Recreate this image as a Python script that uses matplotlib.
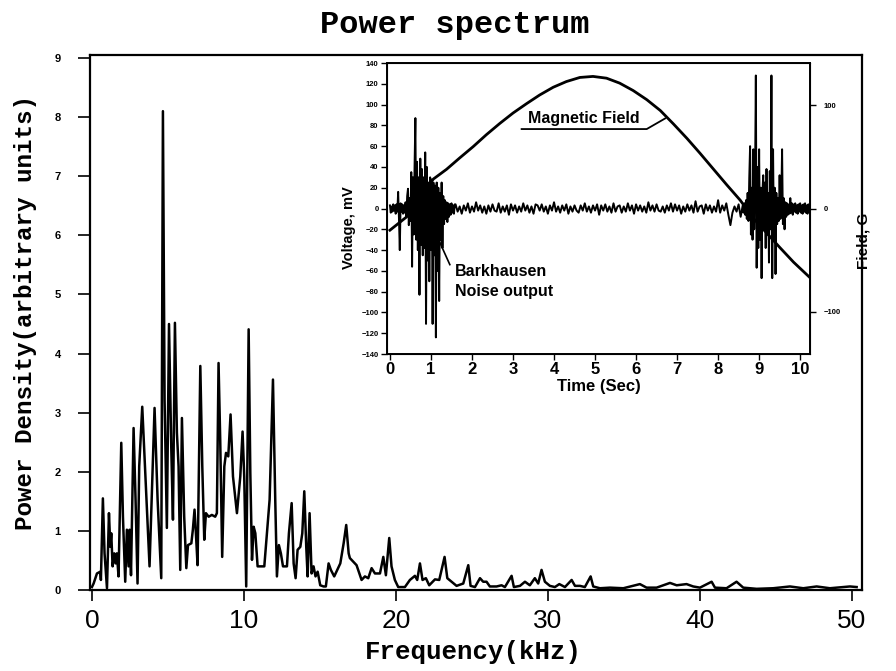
import matplotlib
matplotlib.use("Agg")
import matplotlib.pyplot as plt
import numpy as np

# ---- power spectrum (main axes) ----
freq_khz = [
    0.00, 0.11, 0.33, 0.55, 0.59, 0.72, 0.83, 0.99, 1.12, 1.21, 1.27, 1.36, 1.47, 1.56,
    1.64, 1.75, 1.93, 2.04, 2.19, 2.30, 2.41, 2.48, 2.57, 2.74, 2.87, 3.00, 3.11, 3.31,
    3.51, 3.79, 4.12, 4.32, 4.56, 4.67, 4.78, 4.93, 5.07, 5.22, 5.33, 5.46, 5.59, 5.70,
    5.81, 5.92, 6.07, 6.21, 6.32, 6.54, 6.64, 6.75, 6.84, 6.95, 7.13, 7.26, 7.39, 7.50,
    7.68, 7.89, 8.11, 8.22, 8.33, 8.44, 8.57, 8.71, 8.82, 8.97, 9.12, 9.28, 9.54, 9.76,
    9.91, 10.02, 10.15, 10.31, 10.42, 10.53, 10.64, 10.75, 10.90, 11.07, 11.34, 11.69,
    11.91, 12.06, 12.17, 12.30, 12.43, 12.57, 12.83, 12.96, 13.14, 13.27, 13.40, 13.53,
    13.71, 13.84, 13.97, 14.10, 14.19, 14.32, 14.45, 14.58, 14.71, 14.85, 15.02, 15.24,
    15.39, 15.57, 15.72, 15.94, 16.34, 16.56, 16.73, 16.89, 16.97, 17.41, 17.74, 17.96,
    18.18, 18.40, 18.62, 18.95, 19.17, 19.34, 19.56, 19.71, 19.93, 20.15, 20.59, 20.92,
    21.25, 21.40, 21.58, 21.75, 21.97, 22.19, 22.57, 22.85, 23.20, 23.38, 23.66, 23.99,
    24.43, 24.76, 24.91, 25.20, 25.53, 25.74, 25.96, 26.18, 26.62, 26.95, 27.17, 27.61,
    27.76, 28.16, 28.49, 28.81, 29.14, 29.36, 29.58, 29.80, 30.13, 30.46, 30.75, 31.12,
    31.56, 31.78, 32.11, 32.43, 32.81, 32.98, 33.42, 34.08, 34.96, 36.05, 36.49, 37.15,
    38.03, 38.47, 39.12, 39.56, 40.00, 40.77, 40.99, 41.75, 42.41, 42.85, 43.73, 44.82,
    45.92, 46.80, 47.68, 48.55, 49.87, 50.31,
]
power = [
    0.05, 0.11, 0.28, 0.31, 0.17, 1.55, 0.62, 0.03, 1.30, 0.73, 0.96, 0.40, 0.62, 0.45,
    0.62, 0.23, 2.49, 1.24, 0.14, 1.02, 0.40, 1.02, 0.25, 2.74, 1.53, 0.11, 2.09, 3.10,
    1.98, 0.40, 3.08, 1.53, 0.20, 8.10, 3.20, 1.05, 4.50, 2.40, 1.19, 4.52, 2.66, 2.09,
    0.34, 2.91, 1.24, 0.37, 0.76, 0.79, 1.02, 1.36, 0.96, 0.42, 3.79, 2.09, 0.85, 1.30,
    1.24, 1.27, 1.24, 1.30, 3.84, 2.54, 0.56, 2.09, 2.32, 2.26, 2.97, 1.92, 1.30, 1.92,
    2.68, 1.92, 0.06, 4.41, 1.98, 0.51, 1.07, 0.96, 0.40, 0.40, 0.40, 1.53,
    3.56, 1.53, 0.23, 0.76, 0.62, 0.40, 0.40, 0.96, 1.47, 0.45, 0.20, 0.68,
    0.73, 0.96, 1.67, 0.73, 0.23, 1.30, 0.28, 0.40, 0.23, 0.31, 0.08, 0.06,
    0.06, 0.45, 0.34, 0.23, 0.45, 0.79, 1.10, 0.62, 0.54, 0.42, 0.17, 0.23,
    0.20, 0.37, 0.28, 0.28, 0.56, 0.25, 0.88, 0.40, 0.17, 0.05, 0.05, 0.17,
    0.24, 0.17, 0.45, 0.17, 0.20, 0.08, 0.18, 0.17, 0.56, 0.20, 0.14, 0.07,
    0.11, 0.42, 0.07, 0.05, 0.20, 0.14, 0.14, 0.06, 0.06, 0.08, 0.05, 0.24,
    0.05, 0.07, 0.14, 0.08, 0.20, 0.11, 0.34, 0.14, 0.07, 0.05, 0.10, 0.05,
    0.17, 0.07, 0.07, 0.05, 0.23, 0.06, 0.03, 0.04, 0.03, 0.10, 0.04, 0.04,
    0.12, 0.08, 0.10, 0.06, 0.04, 0.14, 0.04, 0.03, 0.14, 0.04, 0.02, 0.03,
    0.06, 0.03, 0.06, 0.03, 0.06, 0.05,
]

# ---- inset: magnetic field sweep (G) ----
field_t = [0.0, 0.41, 0.81, 1.06, 1.38, 1.70, 2.03, 2.35, 2.68, 3.00, 3.33, 3.65,
           3.98, 4.30, 4.63, 4.95, 5.28, 5.60, 5.93, 6.26, 6.59, 6.91, 7.24, 7.56,
           7.89, 8.21, 8.54, 8.86, 9.19, 9.51, 9.84, 10.24]
field_g = [-21, -8, 16, 28.6, 38, 49, 60, 71.5, 82.5, 92.5, 101.6, 110,
           117.5, 123, 127, 128, 126.3, 121.5, 114.3, 105.5, 95, 82, 68, 53.5,
           38, 23, 8, -9.5, -24, -38, -52, -67]

# ---- inset: Barkhausen noise voltage (mV) ----
burst1_start, burst1_step = 0.0, 0.02
burst1_v = [
    3, -4, 2, -3, 4, -2, 3, -5, 4, -3, 16, -10, -40, 5, -3, 4, -5, 3, -4, 6,
    -8, 12, 19, -16, 10, -12, 35, -56, 30, -25, 40, 87, -30, 45, -40, 30, -83, 48, -35, 38,
    -45, 30, -38, 54, -111, 40, -50, 25, -70, 30, -40, 28, -111, 25, -45, 22, -124, 25, -60, 20,
    -89, 15, -30, 25, -38, 12, -15, 8, -10, 6, -13, 5, -8, 4, -6, 5, -4, 3, -5, 4,
]
quiet_start, quiet_step = 1.6, 0.05
quiet_v = [
    4, -3, 2, -5, 3, -2, 5, -4, 2, -3, 6, -2, 3, -4, 2, -5, 3, -3, 4, -2,
    -3, 5, -4, 2, -3, 3, -6, 4, -2, 3, -4, 2, -3, 5, -2, 3, -4, 2, -5, 4,
    3, -2, 4, -3, 2, -5, 3, -2, 6, -3, 2, -4, 3, -2, 4, -5, 2, -3, 3, -2,
    -4, 3, -2, 5, -3, 2, -4, 3, -2, 4, -6, 3, -2, 4, -3, 2, -4, 5, -3, 2,
    3, -4, 2, -3, 5, -2, 3, -5, 4, -2, 3, -3, 2, -4, 6, -2, 3, -3, 4, -2,
    -3, 2, -4, 3, -2, 5, -3, 4, -2, 3, -5, 2, -3, 4, -2, 3, -4, 7, -3, 2,
    3, -5, 4, -2, 3, -4, 2, -3, 8, -4, 3, -2, 5, -6, -16, -4, 2, -3, 4, -8,
]
burst2_start, burst2_step = 8.6, 0.02
burst2_v = [
    3, -4, 5, -6, 8, -10, 15, -12, 30, 60, -25, 20, -30, 57, -20, 25, 128, -57, 40, -38,
    57, -30, 20, -67, 15, 32, -20, 25, -38, 38, -25, 15, -52, 36, -20, 128, -67, 57, -30, 20,
    -63, 15, -15, 10, -12, 32, -10, 8, 57, -15, 10, -20, 6, -8, 5, -6, 4, -5, 10, -4,
    5, -6, 4, -3, 5, -4, 3, -5, 4, -3, 5, -4, 3, -5, 4, -3, 5, -4, 3, -5, 4, -3,
]

MONO = ["Liberation Mono", "DejaVu Sans Mono"]
SANS = ["Liberation Sans", "DejaVu Sans"]


def series(start, step, values):
    t = start + step * np.arange(len(values))
    return t, np.asarray(values, dtype=float)


fig = plt.figure(figsize=(8.96, 6.71), dpi=100)
fig.patch.set_facecolor("white")

# main spectrum axes
ax = fig.add_axes([0.1004, 0.1207, 0.8616, 0.7973])
ax.plot(freq_khz, power, color="black", lw=1.8)
ax.set_xlim(-0.13, 50.66)
ax.set_ylim(0, 9.05)
ax.set_xticks([0, 10, 20, 30, 40, 50])
ax.set_yticks(range(0, 10))
for s in ax.spines.values():
    s.set_linewidth(1.6)
ax.tick_params(axis="x", direction="out", length=8, width=1.2, pad=6, labelsize=19)
ax.tick_params(axis="y", direction="out", length=9, width=1.2, pad=12, labelsize=8)
for lab in ax.get_xticklabels():
    lab.set_family(SANS)
for lab in ax.get_yticklabels():
    lab.set_family(SANS)
    lab.set_fontweight("bold")

fig.text(0.508, 0.962, "Power spectrum", ha="center", va="center",
         family=MONO, fontweight="bold", fontsize=23)
fig.text(0.028, 0.535, "Power Density(arbitrary units)", ha="center", va="center",
         rotation=90, family=MONO, fontweight="bold", fontsize=17.5)
fig.text(0.528, 0.028, "Frequency(kHz)", ha="center", va="center",
         family=MONO, fontweight="bold", fontsize=18.5)

# inset: time trace
ax_in = fig.add_axes([0.432, 0.4724, 0.472, 0.4337])
t1, v1 = series(burst1_start, burst1_step, burst1_v)
tq, vq = series(quiet_start, quiet_step, quiet_v)
t2, v2 = series(burst2_start, burst2_step, burst2_v)
noise_t = np.concatenate([t1, tq, t2])
noise_v = np.concatenate([v1, vq, v2])
ax_in.plot(noise_t, noise_v, color="black", lw=1.4)
ax_in.set_xlim(-0.07, 10.24)
ax_in.set_ylim(-140, 140)
ax_in.set_xticks(range(0, 11))
ax_in.set_yticks(range(-140, 141, 20))
for s in ax_in.spines.values():
    s.set_linewidth(1.4)
ax_in.tick_params(axis="x", direction="out", length=4, width=1.0, pad=2, labelsize=12)
ax_in.tick_params(axis="y", direction="out", length=4, width=1.0, pad=2, labelsize=5.5)
for lab in ax_in.get_xticklabels() + ax_in.get_yticklabels():
    lab.set_family(SANS)
    lab.set_fontweight("bold")
ax_in.set_xlabel("Time (Sec)", family=SANS, fontweight="bold", fontsize=12, labelpad=1)
ax_in.set_ylabel("Voltage, mV", family=SANS, fontweight="bold", fontsize=10.5)
ax_in.yaxis.set_label_coords(-0.073, 0.433)

ax_f = ax_in.twinx()
ax_f.plot(field_t, field_g, color="black", lw=2.0)
ax_f.set_ylim(-141, 141)
ax_f.set_yticks([-100, 0, 100])
ax_f.tick_params(axis="y", direction="out", length=4, width=1.0, pad=6, labelsize=5.5)
for lab in ax_f.get_yticklabels():
    lab.set_family(SANS)
    lab.set_fontweight("bold")
ax_f.set_ylabel("Field, G", family=SANS, fontweight="bold", fontsize=11)
ax_f.yaxis.set_label_coords(1.11, 0.39)

# annotations
ax_f.text(4.72, 87, "Magnetic Field", ha="center", va="center",
          family=SANS, fontweight="bold", fontsize=11.5)
ax_f.plot([3.21, 6.26, 6.71], [77, 77, 87.3], color="black", lw=1.3)
ax_in.text(1.585, -53, "Barkhausen\nNoise output", ha="left", va="top",
           family=SANS, fontweight="bold", fontsize=11.5, linespacing=1.45)
ax_in.plot([1.46, 1.22], [-54, -33], color="black", lw=1.2)

fig.savefig("out.png", dpi=100)
